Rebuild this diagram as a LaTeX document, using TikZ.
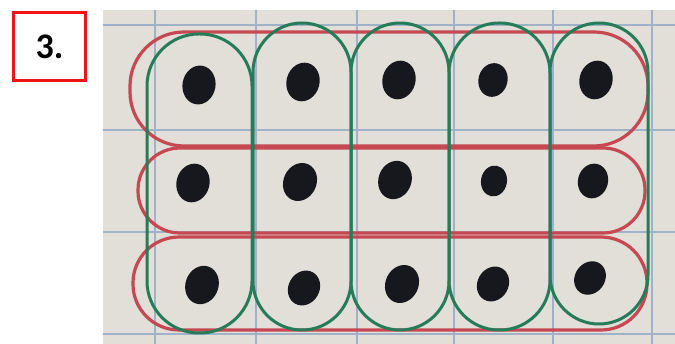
\documentclass[tikz,border=0pt]{standalone}
\usepackage{fontspec}
\setmainfont{Carlito}
\usetikzlibrary{shapes.geometric}
\definecolor{paper}{RGB}{226,222,216}
\definecolor{gridc}{RGB}{160,178,200}
\definecolor{redloop}{RGB}{198,72,82}
\definecolor{greenloop}{RGB}{38,124,88}
\definecolor{ink}{RGB}{22,24,30}
\definecolor{boxred}{RGB}{240,20,20}
\tikzset{
  dotnode/.style={ellipse, fill=ink, draw=none, minimum width=33pt, minimum height=39pt, inner sep=0pt},
  smalldot/.style={dotnode, minimum width=26pt, minimum height=31pt},
  rowloop/.style={draw=redloop, line width=3.2pt},
  colloop/.style={draw=greenloop, line width=3pt},
  gridline/.style={draw=gridc, line width=1.2pt},
  labelbox/.style={draw=boxred, line width=3pt, minimum width=72pt, minimum height=68pt, inner sep=0pt, font=\bfseries\fontsize{36}{36}\selectfont}
}
\begin{document}
\begin{tikzpicture}[x=1pt,y=-1pt]
\useasboundingbox (0,0) rectangle (675,344);
% photo background
\fill[paper] (103,10) rectangle (675,344);
% grid
\foreach \gx in {155,256,357,454,553,652} \draw[gridline] (\gx,10) -- (\gx,344);
\foreach \gy in {25,130,232,334} \draw[gridline] (103,\gy) -- (675,\gy);
% label
\node[labelbox] (lab) at (49.5,46.5) {3.};
% red row loops
\draw[rowloop, rounded corners=54] (130,32) rectangle (648,146);
\draw[rowloop, rounded corners=42] (138,148) rectangle (645,233);
\draw[rowloop, rounded corners=46] (133,237) rectangle (647,330);
% green column loops
\draw[colloop, rounded corners=52] (147,34) rectangle (252,333);
\draw[colloop, rounded corners=49] (253,23) rectangle (351,330);
\draw[colloop, rounded corners=49] (351,23) rectangle (449,330);
\draw[colloop, rounded corners=50] (449,23) rectangle (550,330);
\draw[colloop, rounded corners=49] (550,23) rectangle (648,324);
% dots
\node[dotnode, rotate=-10] (d11) at (199,85) {};
\node[dotnode, rotate=-15] (d12) at (303,82) {};
\node[dotnode, rotate=-15] (d13) at (399,80) {};
\node[dotnode, rotate=-15, minimum width=29pt, minimum height=34pt] (d14) at (493,80) {};
\node[dotnode, rotate=-15] (d15) at (596,80) {};
\node[dotnode, rotate=-15] (d21) at (193,183) {};
\node[dotnode, rotate=-25] (d22) at (300,182) {};
\node[dotnode, rotate=-20] (d23) at (395,180) {};
\node[smalldot, rotate=-10] (d24) at (494,181) {};
\node[dotnode, rotate=-15, minimum width=30pt, minimum height=35pt] (d25) at (593,181) {};
\node[dotnode, rotate=-20] (d31) at (202,285) {};
\node[dotnode, rotate=-30, minimum width=31pt, minimum height=36pt] (d32) at (304,288) {};
\node[dotnode, rotate=-25] (d33) at (402,284) {};
\node[dotnode, rotate=-30, minimum width=31pt, minimum height=36pt] (d34) at (493,284) {};
\node[dotnode, rotate=-35, minimum width=30pt, minimum height=35pt] (d35) at (590,278) {};
\end{tikzpicture}
\end{document}
